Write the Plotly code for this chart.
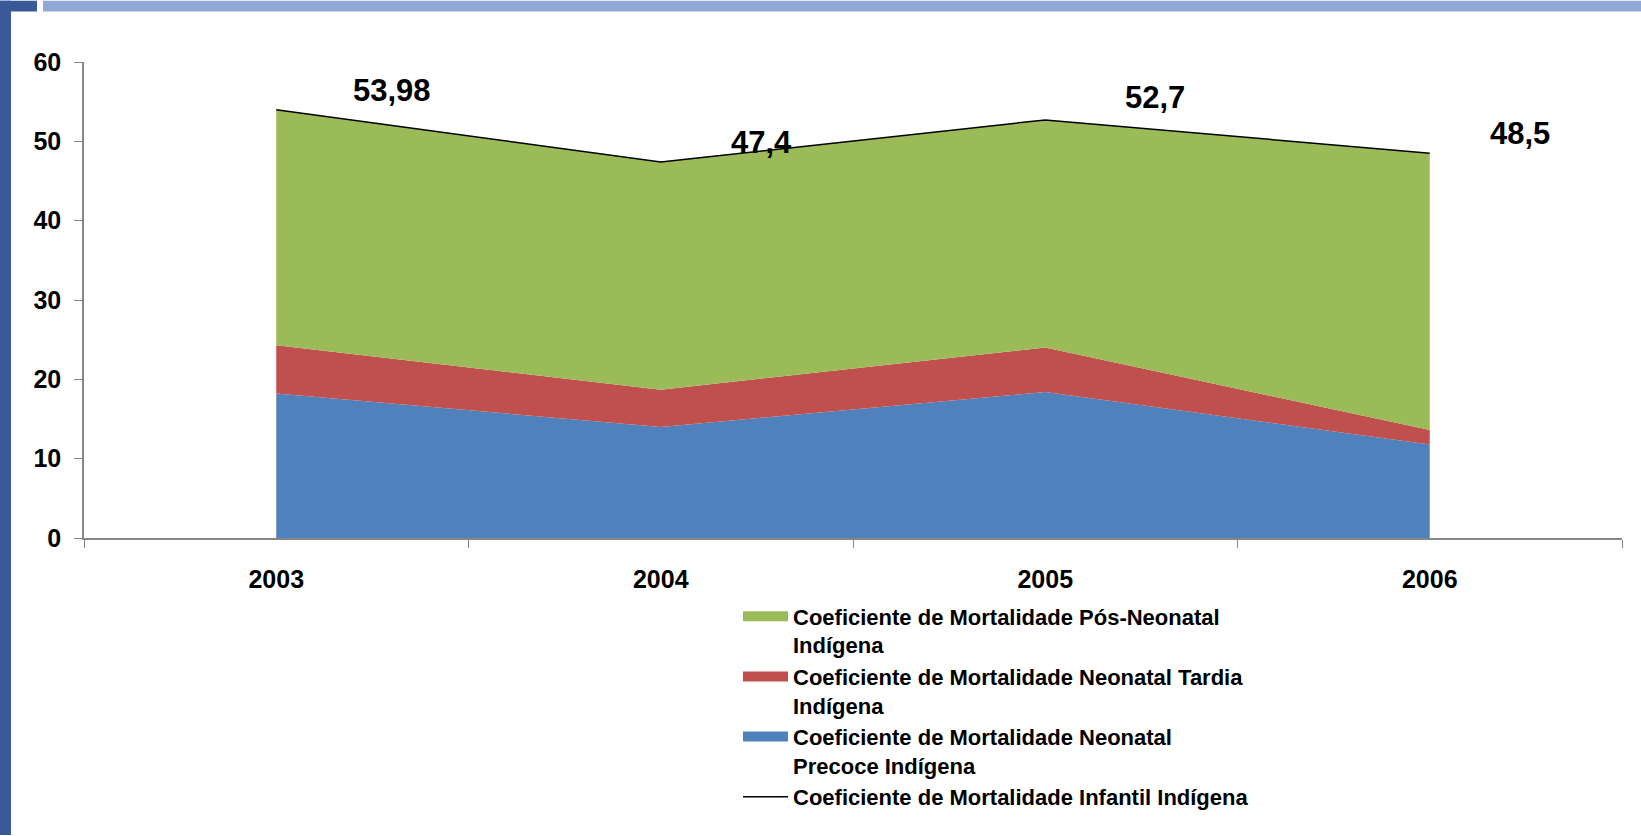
import plotly.graph_objects as go

# ---- data ----
years = ["2003", "2004", "2005", "2006"]
precoce = [18.2, 14.0, 18.4, 11.8]          # Neonatal Precoce (blue)
tardia = [6.1, 4.7, 5.6, 1.8]               # Neonatal Tardia (red)
pos_neonatal = [29.68, 28.7, 28.7, 34.9]    # Pós-Neonatal (green)
infantil = [53.98, 47.4, 52.7, 48.5]        # Infantil total (line)
infantil_labels = ["53,98", "47,4", "52,7", "48,5"]

names = [
    "Coeficiente de Mortalidade Pós-Neonatal<br>Indígena",
    "Coeficiente de Mortalidade Neonatal Tardia<br>Indígena",
    "Coeficiente de Mortalidade Neonatal<br>Precoce Indígena",
    "Coeficiente de Mortalidade Infantil Indígena",
]

# ---- style ----
W, H = 1641, 836
ML, MR, MT, MB = 84, 19, 61.5, 297.5
PW, PH = W - ML - MR, H - MT - MB
FONT = "Liberation Sans, Arial, sans-serif"
GREEN, RED, BLUE = "#9BBB59", "#C0504D", "#4F81BD"
AXIS = "#868686"

def px_x(p):
    return (p - ML) / PW

def px_y(p):
    return 1 - (p - MT) / PH

fig = go.Figure()
series = [(precoce, BLUE, names[2], 3, "g3"),
          (tardia, RED, names[1], 2, "g2"),
          (pos_neonatal, GREEN, names[0], 1, "g1")]
for vals, col, nm, rank, grp in series:
    fig.add_trace(go.Scatter(x=years, y=vals, name=nm, stackgroup="s",
                             mode="none", fill="tonexty", fillcolor=col,
                             legendgroup=grp, showlegend=False))
    # legend entry (wide swatch like the original)
    fig.add_trace(go.Scatter(x=[None], y=[None], name=nm, mode="lines",
                             line=dict(color=col, width=11),
                             legendgroup=grp, legendrank=rank))
fig.add_trace(go.Scatter(x=years, y=infantil, name=names[3], mode="lines",
                         line=dict(color="black", width=1.5), legendrank=4))

# data labels (x given as category index)
label_shift = [(116, 19), (101, 19), (110, 22), (90, 20)]
for i, (v, t, (dx, dy)) in enumerate(zip(infantil, infantil_labels, label_shift)):
    fig.add_annotation(x=i, y=v, xref="x", yref="y", text=t, showarrow=False,
                       xshift=dx, yshift=dy,
                       font=dict(family=FONT, size=31, color="black", weight="bold"))

# slide decorations
shapes = [
    dict(type="rect", xref="paper", yref="paper", x0=px_x(0), x1=px_x(11),
         y0=px_y(836), y1=px_y(0), fillcolor="#3A5998", line_width=0, layer="below"),
    dict(type="rect", xref="paper", yref="paper", x0=px_x(0), x1=px_x(37),
         y0=px_y(11), y1=px_y(0), fillcolor="#3A5998", line_width=0, layer="below"),
    dict(type="rect", xref="paper", yref="paper", x0=px_x(43), x1=px_x(1641),
         y0=px_y(11), y1=px_y(0), fillcolor="#8FA8D6", line_width=0, layer="below"),
]

fig.update_layout(
    width=W, height=H,
    margin=dict(l=ML, r=MR, t=MT, b=MB, autoexpand=False),
    paper_bgcolor="white", plot_bgcolor="white",
    font=dict(family=FONT, color="black"),
    shapes=shapes,
    showlegend=True,
    legend=dict(x=px_x(738), y=px_y(596), xanchor="left", yanchor="top",
                valign="top", tracegroupgap=0, traceorder="normal", itemwidth=45,
                font=dict(family=FONT, size=22, color="black", weight="bold"),
                bgcolor="rgba(0,0,0,0)"),
    xaxis=dict(type="category", range=[-0.5, 3.5], showline=True, linecolor=AXIS,
               linewidth=1.5, ticks="outside", tickson="boundaries", ticklen=8,
               tickcolor=AXIS, showgrid=False, zeroline=False,
               ticklabelstandoff=18,
               tickfont=dict(family=FONT, size=25, color="black", weight="bold")),
    yaxis=dict(range=[0, 60], dtick=10, showline=True, linecolor=AXIS, linewidth=1.5,
               ticks="outside", ticklen=8, tickcolor=AXIS, showgrid=False,
               zeroline=False, ticklabelstandoff=8,
               tickfont=dict(family=FONT, size=25, color="black", weight="bold")),
)

fig.write_html("out.html", config={"displayModeBar": False},
               post_script="document.body.style.margin='0px';document.body.style.padding='0px';")
